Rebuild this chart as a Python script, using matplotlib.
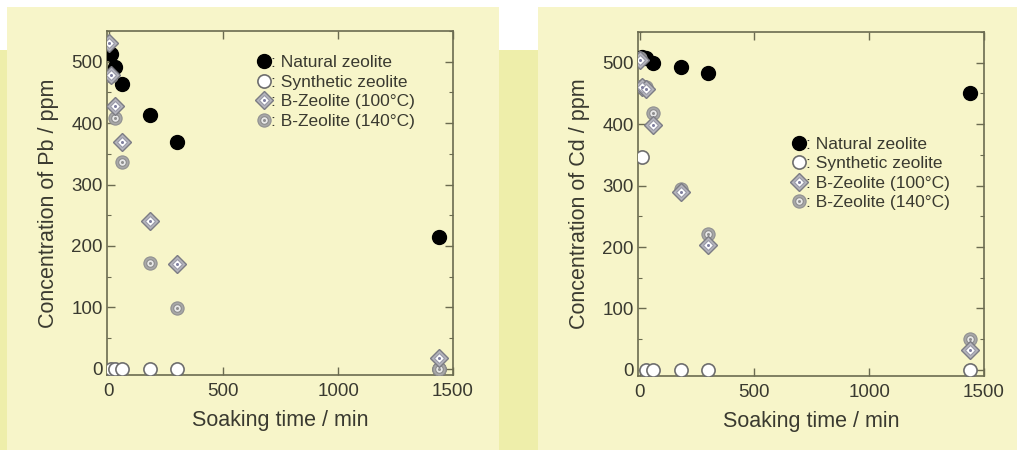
import matplotlib
matplotlib.use("Agg")
import matplotlib.pyplot as plt
from matplotlib.lines import Line2D
from matplotlib.patches import Rectangle
from matplotlib.legend_handler import HandlerTuple
from matplotlib.ticker import MultipleLocator

plt.rcParams['font.family'] = ['Liberation Sans', 'DejaVu Sans']

# --- Pb data (soaking time in min, concentration in ppm)
pb_nat_t = [10, 30, 60, 180, 300, 1440]
pb_nat = [512, 491, 463, 414, 369, 215]
pb_syn_t = [10, 30, 60, 180, 300, 1440]
pb_syn = [0, 0, 0, 0, 0, 0]
pb_b100_t = [0, 10, 30, 60, 180, 300, 1440]
pb_b100 = [530, 479, 428, 370, 241, 171, 17]
pb_b140_t = [10, 30, 60, 180, 300, 1440]
pb_b140 = [476, 409, 336, 172, 99, 0]

# --- Cd data
cd_nat_t = [10, 30, 60, 180, 300, 1440]
cd_nat = [509, 508, 499, 493, 483, 451]
cd_syn_t = [10, 30, 60, 180, 300, 1440]
cd_syn = [346, 0, 0, 0, 0, 0]
cd_b100_t = [0, 10, 30, 60, 180, 300, 1440]
cd_b100 = [504, 461, 458, 399, 290, 203, 32]
cd_b140_t = [0, 10, 30, 60, 180, 300, 1440]
cd_b140 = [507, 462, 460, 418, 295, 221, 51]

labels = [': Natural zeolite', ': Synthetic zeolite',
          ': B-Zeolite (100°C)', ': B-Zeolite (140°C)']

# layered marker looks
sty_nat = [dict(marker='o', ms=10, mfc='black', mec='black')]
sty_syn = [dict(marker='o', ms=9.5, mfc='white', mec='#6e6e6e', mew=1.2)]
sty_b100 = [dict(marker='D', ms=9.5, mfc='#b4b4bc', mec='#7c7c84', mew=1),
            dict(marker='D', ms=5, mfc='white', mec='#9a9aa8', mew=0.8),
            dict(marker='o', ms=2.2, mfc='#8080a0', mec='none')]
sty_b140 = [dict(marker='o', ms=9.5, mfc='#a8a8a8', mec='#909090', mew=0.8),
            dict(marker='o', ms=5.5, mfc='#e8e8e8', mec='#8c8c8c', mew=0.8),
            dict(marker='o', ms=2.2, mfc='#909090', mec='none')]
leg_styles = [sty_nat, sty_syn, sty_b100, sty_b140]

txt = '#3a3a30'
spine = '#6b6b50'

fig = plt.figure(figsize=(10.17, 4.5), dpi=100)
fig.patch.set_facecolor('white')
fig.add_artist(Rectangle((0, 0), 1, 0.8889, transform=fig.transFigure,
                         facecolor='#eeeeaa', edgecolor='none', zorder=-3))
fig.add_artist(Rectangle((0.0069, 0), 0.4838, 0.9844, transform=fig.transFigure,
                         facecolor='#f7f5c9', edgecolor='none', zorder=-2))
fig.add_artist(Rectangle((0.529, 0), 0.471, 0.9844, transform=fig.transFigure,
                         facecolor='#f7f5c9', edgecolor='none', zorder=-2))


def draw(ax, t, v, sty, z):
    for i, s in enumerate(sty):
        ax.plot(t, v, linestyle='none', zorder=z + i * 0.1, **s)


def handle(sty):
    return tuple(Line2D([], [], linestyle='none', **s) for s in sty)


def panel(rect, series, ylab, leg_anchor):
    ax = fig.add_axes(rect)
    ax.patch.set_alpha(0)
    z = 3
    for t, v, sty in series:
        draw(ax, t, v, sty, z)
        z += 1
    ax.set_xlim(-7, 1500)
    ax.set_ylim(-10, 550)
    ax.xaxis.set_major_locator(MultipleLocator(500))
    ax.yaxis.set_major_locator(MultipleLocator(100))
    ax.yaxis.set_minor_locator(MultipleLocator(50))
    ax.tick_params(which='both', direction='in', top=True, right=True,
                   colors=spine, labelcolor=txt, labelsize=13.5)
    ax.tick_params(which='major', length=6, width=1)
    ax.tick_params(which='minor', length=3, width=0.8)
    ax.tick_params(axis='x', pad=6)
    ax.tick_params(axis='y', pad=3)
    for s in ax.spines.values():
        s.set_color(spine)
        s.set_linewidth(1.2)
    ax.set_xlabel('Soaking time / min', fontsize=15.5, color=txt, labelpad=7)
    ax.set_ylabel(ylab, fontsize=15.5, color=txt, labelpad=9)
    ax.legend([handle(s) for s in leg_styles], labels,
              handler_map={tuple: HandlerTuple(ndivide=1)},
              loc='upper left', bbox_to_anchor=leg_anchor, frameon=False,
              fontsize=12.5, handlelength=0.8, handletextpad=0.0,
              borderpad=0, borderaxespad=0, labelspacing=0.25,
              labelcolor=txt)
    return ax


panel([0.1052, 0.1667, 0.3402, 0.7644],
      [(pb_nat_t, pb_nat, sty_nat), (pb_syn_t, pb_syn, sty_syn),
       (pb_b140_t, pb_b140, sty_b140), (pb_b100_t, pb_b100, sty_b100)],
      'Concentration of Pb / ppm', (0.435, 0.93))
panel([0.6273, 0.1644, 0.3402, 0.7644],
      [(cd_nat_t, cd_nat, sty_nat), (cd_syn_t, cd_syn, sty_syn),
       (cd_b140_t, cd_b140, sty_b140), (cd_b100_t, cd_b100, sty_b100)],
      'Concentration of Cd / ppm', (0.446, 0.696))

fig.savefig('out.png', dpi=100)
